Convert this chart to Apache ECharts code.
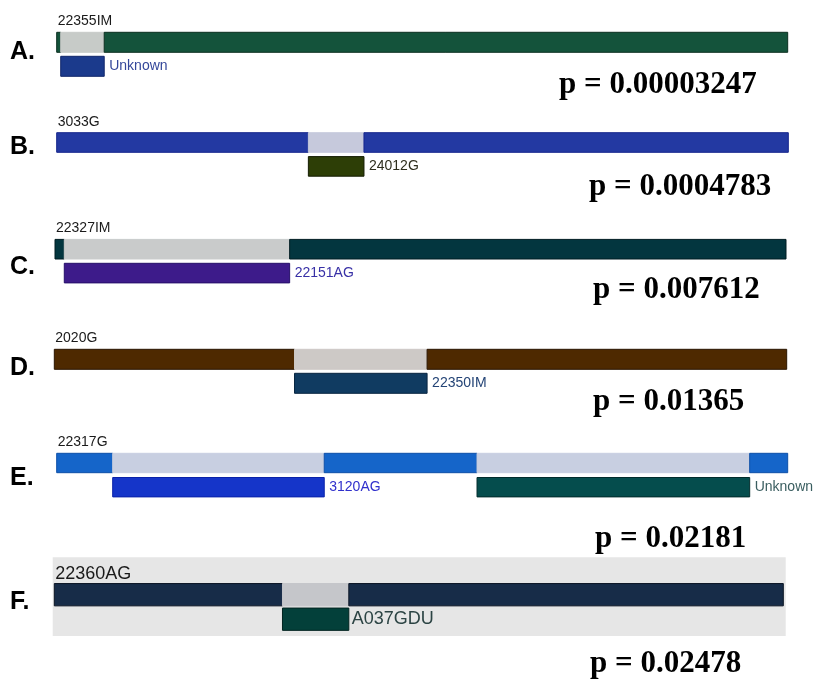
<!DOCTYPE html>
<html>
<head>
<meta charset="utf-8">
<script src="https://cdn.jsdelivr.net/npm/echarts@6/dist/echarts.min.js"></script>
<style>
  html, body { margin: 0; padding: 0; background: #fff; }
  #main { width: 818px; height: 679px; }
</style>
</head>
<body>
<div id="main"></div>
<script>
// data: relative position along the track, in % of its length
var panelLetters = ['A.', 'B.', 'C.', 'D.', 'E.', 'F.']
var trackNames = ['22355IM', '3033G', '22327IM', '2020G', '22317G', '22360AG']
var donorNames = [['Unknown'], ['24012G'], ['22151AG'], ['22350IM'], ['3120AG', 'Unknown'], ['A037GDU']]
var donorStart = [[0.55], [34.4], [1.27], [32.8], [7.66, 57.5], [31.3]]
var donorEnd = [[6.5], [42.0], [32.1], [50.9], [36.6, 94.8], [40.4]]
var pValues = ['0.00003247', '0.0004783', '0.007612', '0.01365', '0.02181', '0.02478']
var rows = ['track', 'donor']

// colours
var trackColor = ['#14533b', '#2339a2', '#03363f', '#4e2900', '#1565c9', '#172c48']
var trackEdge = ['#0b2f20', '#15258c', '#011c22', '#2a1500', '#0d4fa8', '#0a1424']
var gapColor = ['#c7cbc8', '#c6c9dc', '#c9cbcb', '#cdc9c6', '#c8cfe1', '#c5c6ca']
var donorColor = [['#1b3a8c'], ['#2d3e06'], ['#3d1b8a'], ['#103b61'], ['#1535c9', '#054d4d'], ['#03403a']]
var donorEdge = [['#10266a'], ['#141c02'], ['#26106a'], ['#082540'], ['#0a22a8', '#022c2c'], ['#01221e']]
var labelColor = [['#34479a'], ['#2e2e1e'], ['#3830a6'], ['#244476'], ['#3030cc', '#3a5e60'], ['#2c4444']]

// layout (px)
var gridLeft = [56.7, 56.7, 55, 54.3, 56.7, 54.3]
var gridWidth = [731, 731.6, 731, 732.4, 731, 729]
var rowCenter = [42.3, 142.5, 249.2, 359.3, 463, 594.7]
var rowStep = [24, 23.9, 23.9, 24, 24.2, 24.5]
var barH = [20, 19.6, 19.6, 20, 19.4, 22.3]
var letterY = [52, 147, 267, 368, 478, 602]
var pX = [559, 589, 593, 593, 595, 590]
var pY = [85, 187, 290, 402, 539, 664]

var grids = [], xAxes = [], yAxes = [], series = [], graphics = []

graphics.push({
  type: 'rect', z: -10,
  shape: { x: 52.7, y: 557.3, width: 733, height: 78.7 },
  style: { fill: '#e6e6e6' }
})

for (var i = 0; i < 6; i++) {
  grids.push({ left: gridLeft[i], width: gridWidth[i], top: rowCenter[i] - rowStep[i] / 2, height: rowStep[i] * 2 })
  xAxes.push({ type: 'value', gridIndex: i, min: 0, max: 100, show: false })
  yAxes.push({ type: 'category', gridIndex: i, data: rows, inverse: true, show: false })

  // reference track: coloured except where a donor segment sits (grey)
  var cuts = [0]
  var order = donorStart[i].map(function (s, k) { return k }).sort(function (a, b) { return donorStart[i][a] - donorStart[i][b] })
  order.forEach(function (k) { cuts.push(donorStart[i][k], donorEnd[i][k]) })
  cuts.push(100)
  var data = [], meta = []
  for (var j = 0; j < cuts.length - 1; j++) {
    var isGap = j % 2 === 1
    data.push([cuts[j], cuts[j + 1], 0])
    meta.push({
      fill: isGap ? gapColor[i] : trackColor[i],
      stroke: isGap ? gapColor[i] : trackEdge[i],
      title: j === 0 ? trackNames[i] : null
    })
  }
  donorStart[i].forEach(function (s, k) {
    data.push([s, donorEnd[i][k], 1])
    meta.push({ fill: donorColor[i][k], stroke: donorEdge[i][k], label: donorNames[i][k], labelColor: labelColor[i][k] })
  })

  series.push({
    type: 'custom',
    xAxisIndex: i,
    yAxisIndex: i,
    data: data,
    encode: { x: [0, 1], y: 2 },
    renderItem: (function (meta, big, h) {
      return function (params, api) {
        var m = meta[params.dataIndex]
        var p0 = api.coord([api.value(0), api.value(2)])
        var p1 = api.coord([api.value(1), api.value(2)])
        var kids = [{
          type: 'rect',
          shape: { x: p0[0], y: p0[1] - h / 2, width: p1[0] - p0[0], height: h },
          style: { fill: m.fill, stroke: m.stroke, lineWidth: 1 }
        }]
        var fs = big ? 18 : 14
        if (m.title) {
          kids.push({
            type: 'text',
            style: {
              x: p0[0] + 1, y: p0[1] - h / 2 - (big ? 10 : 11),
              text: m.title, fill: '#1a1a1a',
              font: fs + 'px "Liberation Sans", Arial, sans-serif',
              verticalAlign: 'middle'
            }
          })
        }
        if (m.label) {
          kids.push({
            type: 'text',
            style: {
              x: p1[0] + (big ? 3 : 5), y: p0[1],
              text: m.label, fill: m.labelColor,
              font: fs + 'px "Liberation Sans", Arial, sans-serif',
              verticalAlign: 'middle'
            }
          })
        }
        return { type: 'group', children: kids }
      }
    })(meta, i === 5, barH[i])
  })

  graphics.push({
    type: 'text', x: 10, y: letterY[i],
    style: { text: panelLetters[i], fill: '#000', font: 'bold 25px "Liberation Sans", Arial, sans-serif', verticalAlign: 'middle' }
  })
  graphics.push({
    type: 'text', x: pX[i], y: pY[i],
    style: { text: 'p = ' + pValues[i], fill: '#000', font: 'bold 31px "Liberation Serif", "Times New Roman", serif', verticalAlign: 'middle' }
  })
}

var myChart = echarts.init(document.getElementById('main'))
myChart.setOption({
  backgroundColor: '#fff',
  animation: false,
  grid: grids,
  xAxis: xAxes,
  yAxis: yAxes,
  graphic: graphics,
  series: series
})
</script>
</body>
</html>
